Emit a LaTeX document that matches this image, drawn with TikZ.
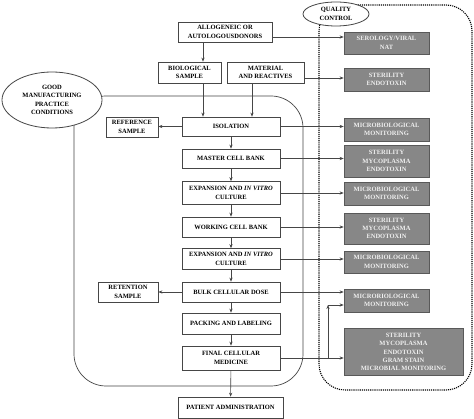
\documentclass[tikz,border=0pt]{standalone}
\usepackage{fontspec}
\setmainfont{Liberation Serif}
\usetikzlibrary{arrows.meta,calc}
\definecolor{qgray}{RGB}{135,135,135}
\definecolor{qtext}{RGB}{240,240,240}
\definecolor{edge}{RGB}{70,70,70}
\begin{document}
\begin{tikzpicture}[x=1pt,y=-1pt,
  txt/.style={font=\fontsize{6.5}{8.3}\selectfont\bfseries, align=center, inner sep=0pt},
  box/.style={txt, draw=edge, fill=white, line width=0.7pt},
  gbox/.style={txt, draw=black!65, fill=qgray, text=qtext, line width=0.7pt},
  oval/.style={txt, ellipse, draw=edge, fill=white, line width=0.8pt},
  arr/.style={draw=edge, line width=0.6pt, -{Stealth[length=4pt,width=3.2pt]}},
  ln/.style={draw=edge, line width=0.6pt}
]
\usetikzlibrary{shapes.geometric}
\fill[white] (0,0) rectangle (474,419);
\useasboundingbox (0,0) rectangle (474,419);

% frames
\draw[ln, line width=0.7pt, rounded corners=32] (74,96) rectangle (303,386);
\draw[line width=1.1pt, densely dotted, rounded corners=26] (319,5) rectangle (472,390);

% ellipses
\node[txt, draw=edge, fill=white, line width=0.8pt, shape=ellipse, minimum width=100, minimum height=56] (gmp) at (52,100) {GOOD\\MANUFACTURING\\PRACTICE\\CONDITIONS};
\node[txt, draw=edge, fill=white, line width=0.8pt, shape=ellipse, minimum width=66, minimum height=24] (qc) at (336,14) {QUALITY\\CONTROL};

% main column
\node[box, minimum width=94, minimum height=20] (donors) at (225,32) {ALLOGENEIC OR\\AUTOLOGOUSDONORS};
\node[box, minimum width=63, minimum height=21] (bio) at (189.5,72.5) {BIOLOGICAL\\SAMPLE};
\node[box, minimum width=77, minimum height=21] (mat) at (265.5,72.5) {MATERIAL\\AND REACTIVES};
\node[box, minimum width=98, minimum height=19] (isol) at (231,126.5) {ISOLATION};
\node[box, minimum width=52, minimum height=20] (ref) at (132,127) {REFERENCE\\SAMPLE};
\node[box, minimum width=98, minimum height=19] (master) at (231,158.5) {MASTER CELL BANK};
\node[box, minimum width=98, minimum height=23] (exp1) at (231,193) {EXPANSION AND \textit{IN VITRO}\\CULTURE};
\node[box, minimum width=98, minimum height=20] (work) at (231,227) {WORKING CELL BANK};
\node[box, minimum width=98, minimum height=21] (exp2) at (231,259) {EXPANSION AND \textit{IN VITRO}\\CULTURE};
\node[box, minimum width=98, minimum height=20] (bulk) at (231,292) {BULK CELLULAR DOSE};
\node[box, minimum width=60, minimum height=20] (ret) at (128,292) {RETENTION\\SAMPLE};
\node[box, minimum width=98, minimum height=21] (pack) at (231,323.5) {PACKING AND LABELING};
\node[box, minimum width=98, minimum height=24] (final) at (231,358) {FINAL CELLULAR\\MEDICINE};
\node[box, minimum width=105, minimum height=21] (patient) at (230.5,407.5) {PATIENT ADMINISTRATION};

% quality control boxes
\node[gbox, minimum width=85, minimum height=22] (g1) at (386.5,43) {SEROLOGY/VIRAL\\NAT};
\node[gbox, minimum width=85, minimum height=23] (g2) at (386.5,79.5) {STERILITY\\ENDOTOXIN};
\node[gbox, minimum width=85, minimum height=23] (g3) at (386.5,129.5) {MICROBIOLOGICAL\\MONITORING};
\node[gbox, minimum width=85, minimum height=32] (g4) at (386.5,161) {STERILITY\\MYCOPLASMA\\ENDOTOXIN};
\node[gbox, minimum width=85, minimum height=23] (g5) at (386.5,193.5) {MICROBIOLOGICAL\\MONITORING};
\node[gbox, minimum width=85, minimum height=31] (g6) at (386.5,228.5) {STERILITY\\MYCOPLASMA\\ENDOTOXIN};
\node[gbox, minimum width=85, minimum height=22] (g7) at (386.5,262) {MICROBIOLOGICAL\\MONITORING};
\node[gbox, minimum width=85, minimum height=23] (g8) at (386.5,300.5) {MICRORIOLOGICAL\\MONITORING};
\node[gbox, minimum width=119, minimum height=47] (g9) at (403.5,352) {STERILITY\\MYCOPLASMA\\ENDOTOXIN\\GRAM STAIN\\MICROBIAL MONITORING};

% vertical flow
\coordinate (cA) at (203,0);
\coordinate (cB) at (252,0);
\draw[arr] (donors.south -| cA) -- (bio.north -| cA);
\draw[arr] (bio.south -| cA) -- (isol.north -| cA);
\draw[arr] (mat.south -| cB) -- (isol.north -| cB);
\draw[arr] (isol) -- (master);
\draw[arr] (master) -- (exp1);
\draw[arr] (exp1) -- (work);
\draw[arr] (work) -- (exp2);
\draw[arr] (exp2) -- (bulk);
\draw[arr] (bulk) -- (pack);
\draw[arr] (pack) -- (final);
\draw[arr] (final) -- (patient);
\draw[arr] (isol.west) -- (isol.west -| ref.east);
\draw[arr] (bulk.west) -- (bulk.west -| ret.east);

% to quality control
\coordinate (p1) at ($(donors.east)+(0,5)$);
\coordinate (p2) at ($(mat.east)+(0,5.5)$);
\draw[arr] (p1) -- (p1 -| g1.west);
\draw[arr] (p2) -- (p2 -| g2.west);
\draw[arr] (isol.east) -- (isol.east -| g3.west);
\draw[arr] (master.east) -- (master.east -| g4.west);
\draw[arr] (exp1.east) -- (exp1.east -| g5.west);
\draw[arr] (work.east) -- (work.east -| g6.west);
\draw[arr] (exp2.east) -- (exp2.east -| g7.west);
\draw[arr] (bulk.east) -- (bulk.east -| g8.west);
\draw[arr] (final.east) -- (final.east -| g9.west);
\coordinate (br) at (328,0);
\coordinate (p8) at ($(g8.west)+(0,4.5)$);
\draw[arr] (final.east -| br) -- (br |- p8);
\draw[arr] (br |- p8) -- (p8);
\end{tikzpicture}
\end{document}
